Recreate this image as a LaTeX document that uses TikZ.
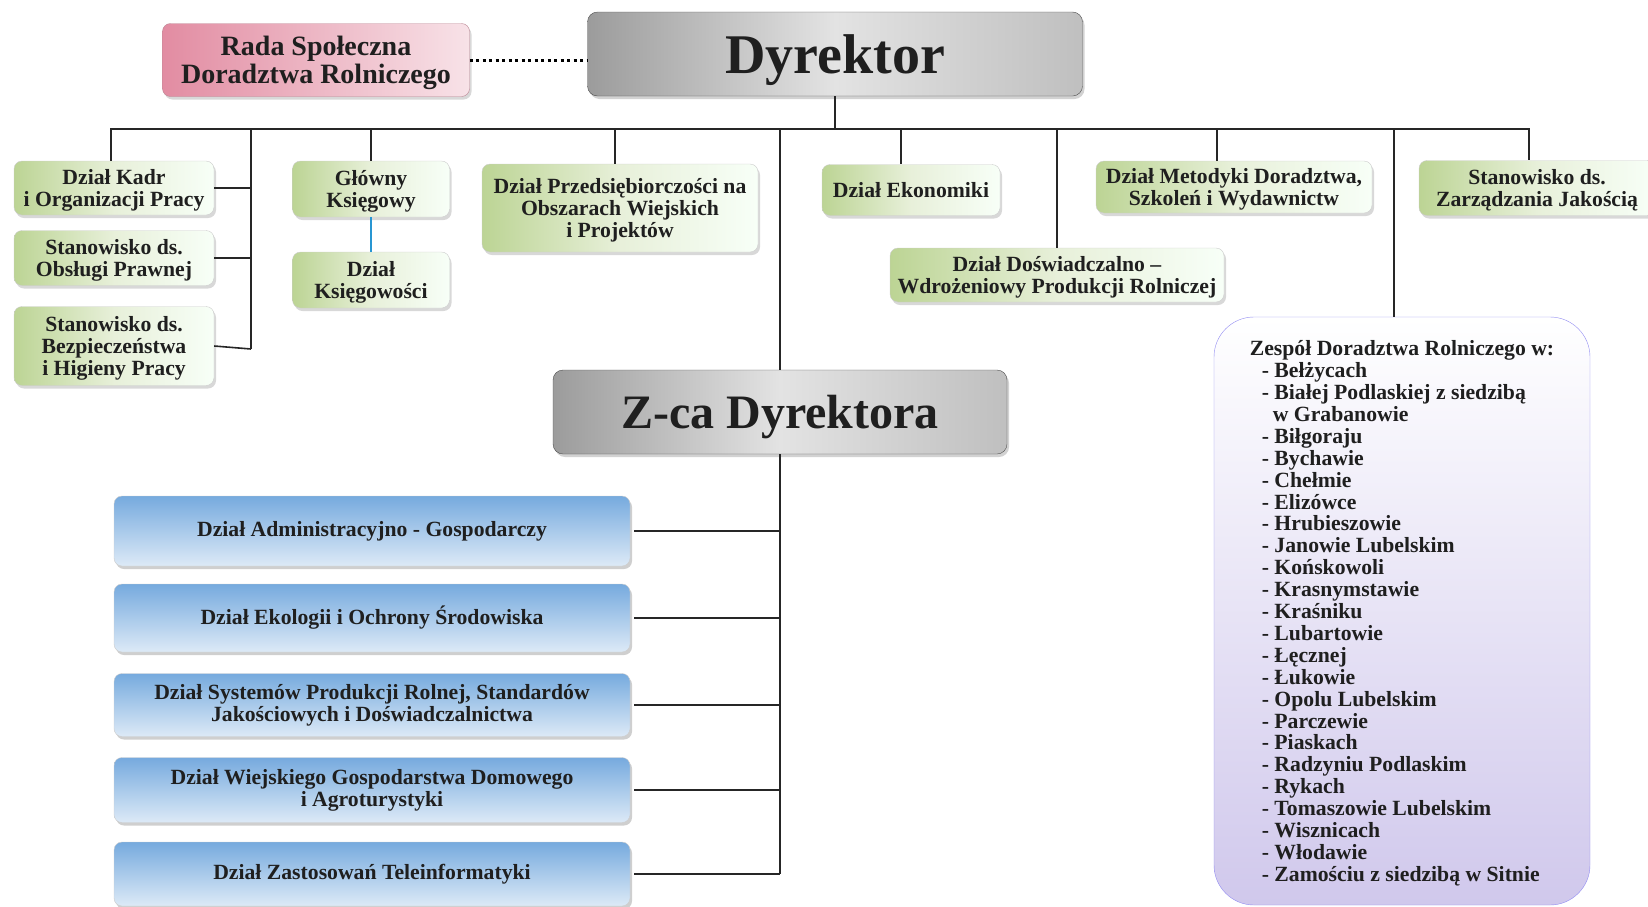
\documentclass[tikz,border=0pt]{standalone}
\usepackage{fontspec}
\setmainfont{Liberation Serif}
\usetikzlibrary{shadows, positioning}
\definecolor{boxgreen}{RGB}{188,212,148}
\definecolor{boxblue}{RGB}{118,170,222}
\definecolor{boxpink}{RGB}{226,140,162}
\definecolor{boxlav}{RGB}{208,200,236}
\definecolor{lineblue}{RGB}{40,150,210}

\begin{document}
\begin{tikzpicture}[x=1pt, y=-1pt]
	\tikzstyle{chief} = [rectangle, rounded corners=10pt, draw=gray!60!black, 
	left color=gray!78, right color=gray!50, middle color=gray!22, 
	drop shadow={shadow xshift=2pt, shadow yshift=-3pt, fill=gray!70}, 
	text=black!88, inner sep=0pt, text depth=0pt]
	\tikzstyle{council} = [rectangle, rounded corners=8pt, draw=boxpink!60!gray, 
	left color=boxpink, right color=boxpink!25, align=center, inner sep=0pt, 
	drop shadow={shadow xshift=2pt, shadow yshift=-3pt, fill=gray!60}, 
	text=black!88, text depth=0pt, font=\bfseries\fontsize{28}{28.5}\selectfont]
	\tikzstyle{unit} = [rectangle, rounded corners=8pt, draw=gray!40, 
	left color=boxgreen, right color=green!3!white, middle color=boxgreen!35, 
	align=center, inner sep=0pt, text=black!88, text depth=0pt, 
	drop shadow={shadow xshift=2pt, shadow yshift=-3pt, fill=gray!60}, 
	font=\bfseries\fontsize{21.7}{22}\selectfont]
	\tikzstyle{deputyunit} = [rectangle, rounded corners=8pt, draw=gray!40, 
	top color=boxblue, middle color=white, bottom color=boxblue!25, 
	align=center, inner sep=0pt, text=black!88, minimum width=516pt, 
	drop shadow={shadow xshift=2pt, shadow yshift=-3pt, fill=gray!75}, 
	font=\bfseries\fontsize{21.7}{22}\selectfont]
	\tikzstyle{team} = [rectangle, rounded corners=40pt, draw=boxlav!70!blue, 
	top color=white, bottom color=boxlav, align=left, inner sep=0pt, 
	text=black!88, text depth=0pt, font=\bfseries\fontsize{21.7}{21.9}\selectfont]
	\tikzstyle{link} = [line width=1.6pt, black!85]
	\useasboundingbox (0,0) rectangle (1648,906);
	\node (dyr) [chief, minimum width=495pt, minimum height=84pt, 
	font=\bfseries\fontsize{56}{60}\selectfont] at (835,54) {Dyrektor};
	\node (rada) [council, minimum width=307pt, minimum height=73pt] at (316,60) 
	{Rada Społeczna\\Doradztwa Rolniczego};
	\node (kadr) [unit, minimum width=200pt, minimum height=54pt] at (114,188) 
	{Dział Kadr\\i Organizacji Pracy};
	\node (prawna) [unit, minimum width=200pt, minimum height=55pt] at (114,258) 
	{Stanowisko ds.\\Obsługi Prawnej};
	\node (bhp) [unit, minimum width=200pt, minimum height=79pt] at (114,346) 
	{Stanowisko ds.\\Bezpieczeństwa\\i Higieny Pracy};
	\node (glowny) [unit, minimum width=157pt, minimum height=56pt] at (371,189) 
	{Główny\\Księgowy};
	\node (ksieg) [unit, minimum width=157pt, minimum height=56pt] at (371,280) 
	{Dział\\Księgowości};
	\node (przeds) [unit, minimum width=276pt, minimum height=88pt] at (620,208) 
	{Dział Przedsiębiorczości na\\Obszarach Wiejskich\\i Projektów};
	\node (eko) [unit, minimum width=178pt, minimum height=51pt] at (911,190) 
	{Dział Ekonomiki};
	\node (dosw) [unit, minimum width=334pt, minimum height=54pt] at (1057,275) 
	{Dział Doświadczalno –\\Wdrożeniowy Produkcji Rolniczej};
	\node (metod) [unit, minimum width=276pt, minimum height=52pt] at (1234,187) 
	{Dział Metodyki Doradztwa,\\Szkoleń i Wydawnictw};
	\node (jakosc) [unit, minimum width=236pt, minimum height=55pt] at (1537,188) 
	{Stanowisko ds.\\Zarządzania Jakością};
	\node (zespol) [team, minimum width=376pt, minimum height=588pt] at (1402,611) 
	{Zespół Doradztwa Rolniczego w:\\
	\hspace*{12pt}- Bełżycach\\
	\hspace*{12pt}- Białej Podlaskiej z siedzibą\\
	\hspace*{23pt}w Grabanowie\\
	\hspace*{12pt}- Biłgoraju\\
	\hspace*{12pt}- Bychawie\\
	\hspace*{12pt}- Chełmie\\
	\hspace*{12pt}- Elizówce\\
	\hspace*{12pt}- Hrubieszowie\\
	\hspace*{12pt}- Janowie Lubelskim\\
	\hspace*{12pt}- Końskowoli\\
	\hspace*{12pt}- Krasnymstawie\\
	\hspace*{12pt}- Kraśniku\\
	\hspace*{12pt}- Lubartowie\\
	\hspace*{12pt}- Łęcznej\\
	\hspace*{12pt}- Łukowie\\
	\hspace*{12pt}- Opolu Lubelskim\\
	\hspace*{12pt}- Parczewie\\
	\hspace*{12pt}- Piaskach\\
	\hspace*{12pt}- Radzyniu Podlaskim\\
	\hspace*{12pt}- Rykach\\
	\hspace*{12pt}- Tomaszowie Lubelskim\\
	\hspace*{12pt}- Wisznicach\\
	\hspace*{12pt}- Włodawie\\
	\hspace*{12pt}- Zamościu z siedzibą w Sitnie};
	\node (zca) [chief, minimum width=454pt, minimum height=84pt, 
	font=\bfseries\fontsize{48}{52}\selectfont] at (780,412) {Z-ca Dyrektora};
	\node (admin) [deputyunit, minimum height=70pt] at (372,531) 
	{Dział Administracyjno - Gospodarczy};
	\node (ekol) [deputyunit, minimum height=68pt] at (372,618) 
	{Dział Ekologii i Ochrony Środowiska};
	\node (syst) [deputyunit, minimum height=63pt] at (372,705) 
	{Dział Systemów Produkcji Rolnej, Standardów\\Jakościowych i Doświadczalnictwa};
	\node (wiej) [deputyunit, minimum height=65pt] at (372,790) 
	{Dział Wiejskiego Gospodarstwa Domowego\\i Agroturystyki};
	\node (tele) [deputyunit, minimum height=64pt] at (372,874) 
	{Dział Zastosowań Teleinformatyki};
	\coordinate (bus) at (835,129);
	\coordinate (colL) at (251,349);
	\draw [line width=3pt, dash pattern=on 3pt off 3.5pt] (rada.east) -- (rada.east -| dyr.west);
	\draw [link] (dyr.south) -- (bus);
	\draw [link] (bus) -| ([xshift=-3pt]kadr.north);
	\draw [link] (bus) -| (colL);
	\draw [link] (kadr.east) -- (kadr.east -| colL);
	\draw [link] (prawna.east) -- (prawna.east -| colL);
	\draw [link] (bhp.east) -- (colL);
	\draw [link] (bus) -| (glowny.north);
	\draw [line width=1.6pt, lineblue] (glowny.south) -- (ksieg.north);
	\draw [link] (bus) -| ([xshift=-5pt]przeds.north);
	\draw [link] (bus) -| (zca.north);
	\draw [link] (bus) -| ([xshift=-10pt]eko.north);
	\draw [link] (bus) -| (dosw.north);
	\draw [link] (bus) -| ([xshift=-17pt]metod.north);
	\draw [link] (bus) -| ([xshift=-8pt]zespol.north);
	\draw [link] (bus) -| ([xshift=-8pt]jakosc.north);
	\draw [link] (zca.south) -- (zca.south |- tele.east);
	\draw [link] ([xshift=4pt]admin.east) -- (admin.east -| zca.south);
	\draw [link] ([xshift=4pt]ekol.east) -- (ekol.east -| zca.south);
	\draw [link] ([xshift=4pt]syst.east) -- (syst.east -| zca.south);
	\draw [link] ([xshift=4pt]wiej.east) -- (wiej.east -| zca.south);
	\draw [link] ([xshift=4pt]tele.east) -- (tele.east -| zca.south);
\end{tikzpicture}
\end{document}
